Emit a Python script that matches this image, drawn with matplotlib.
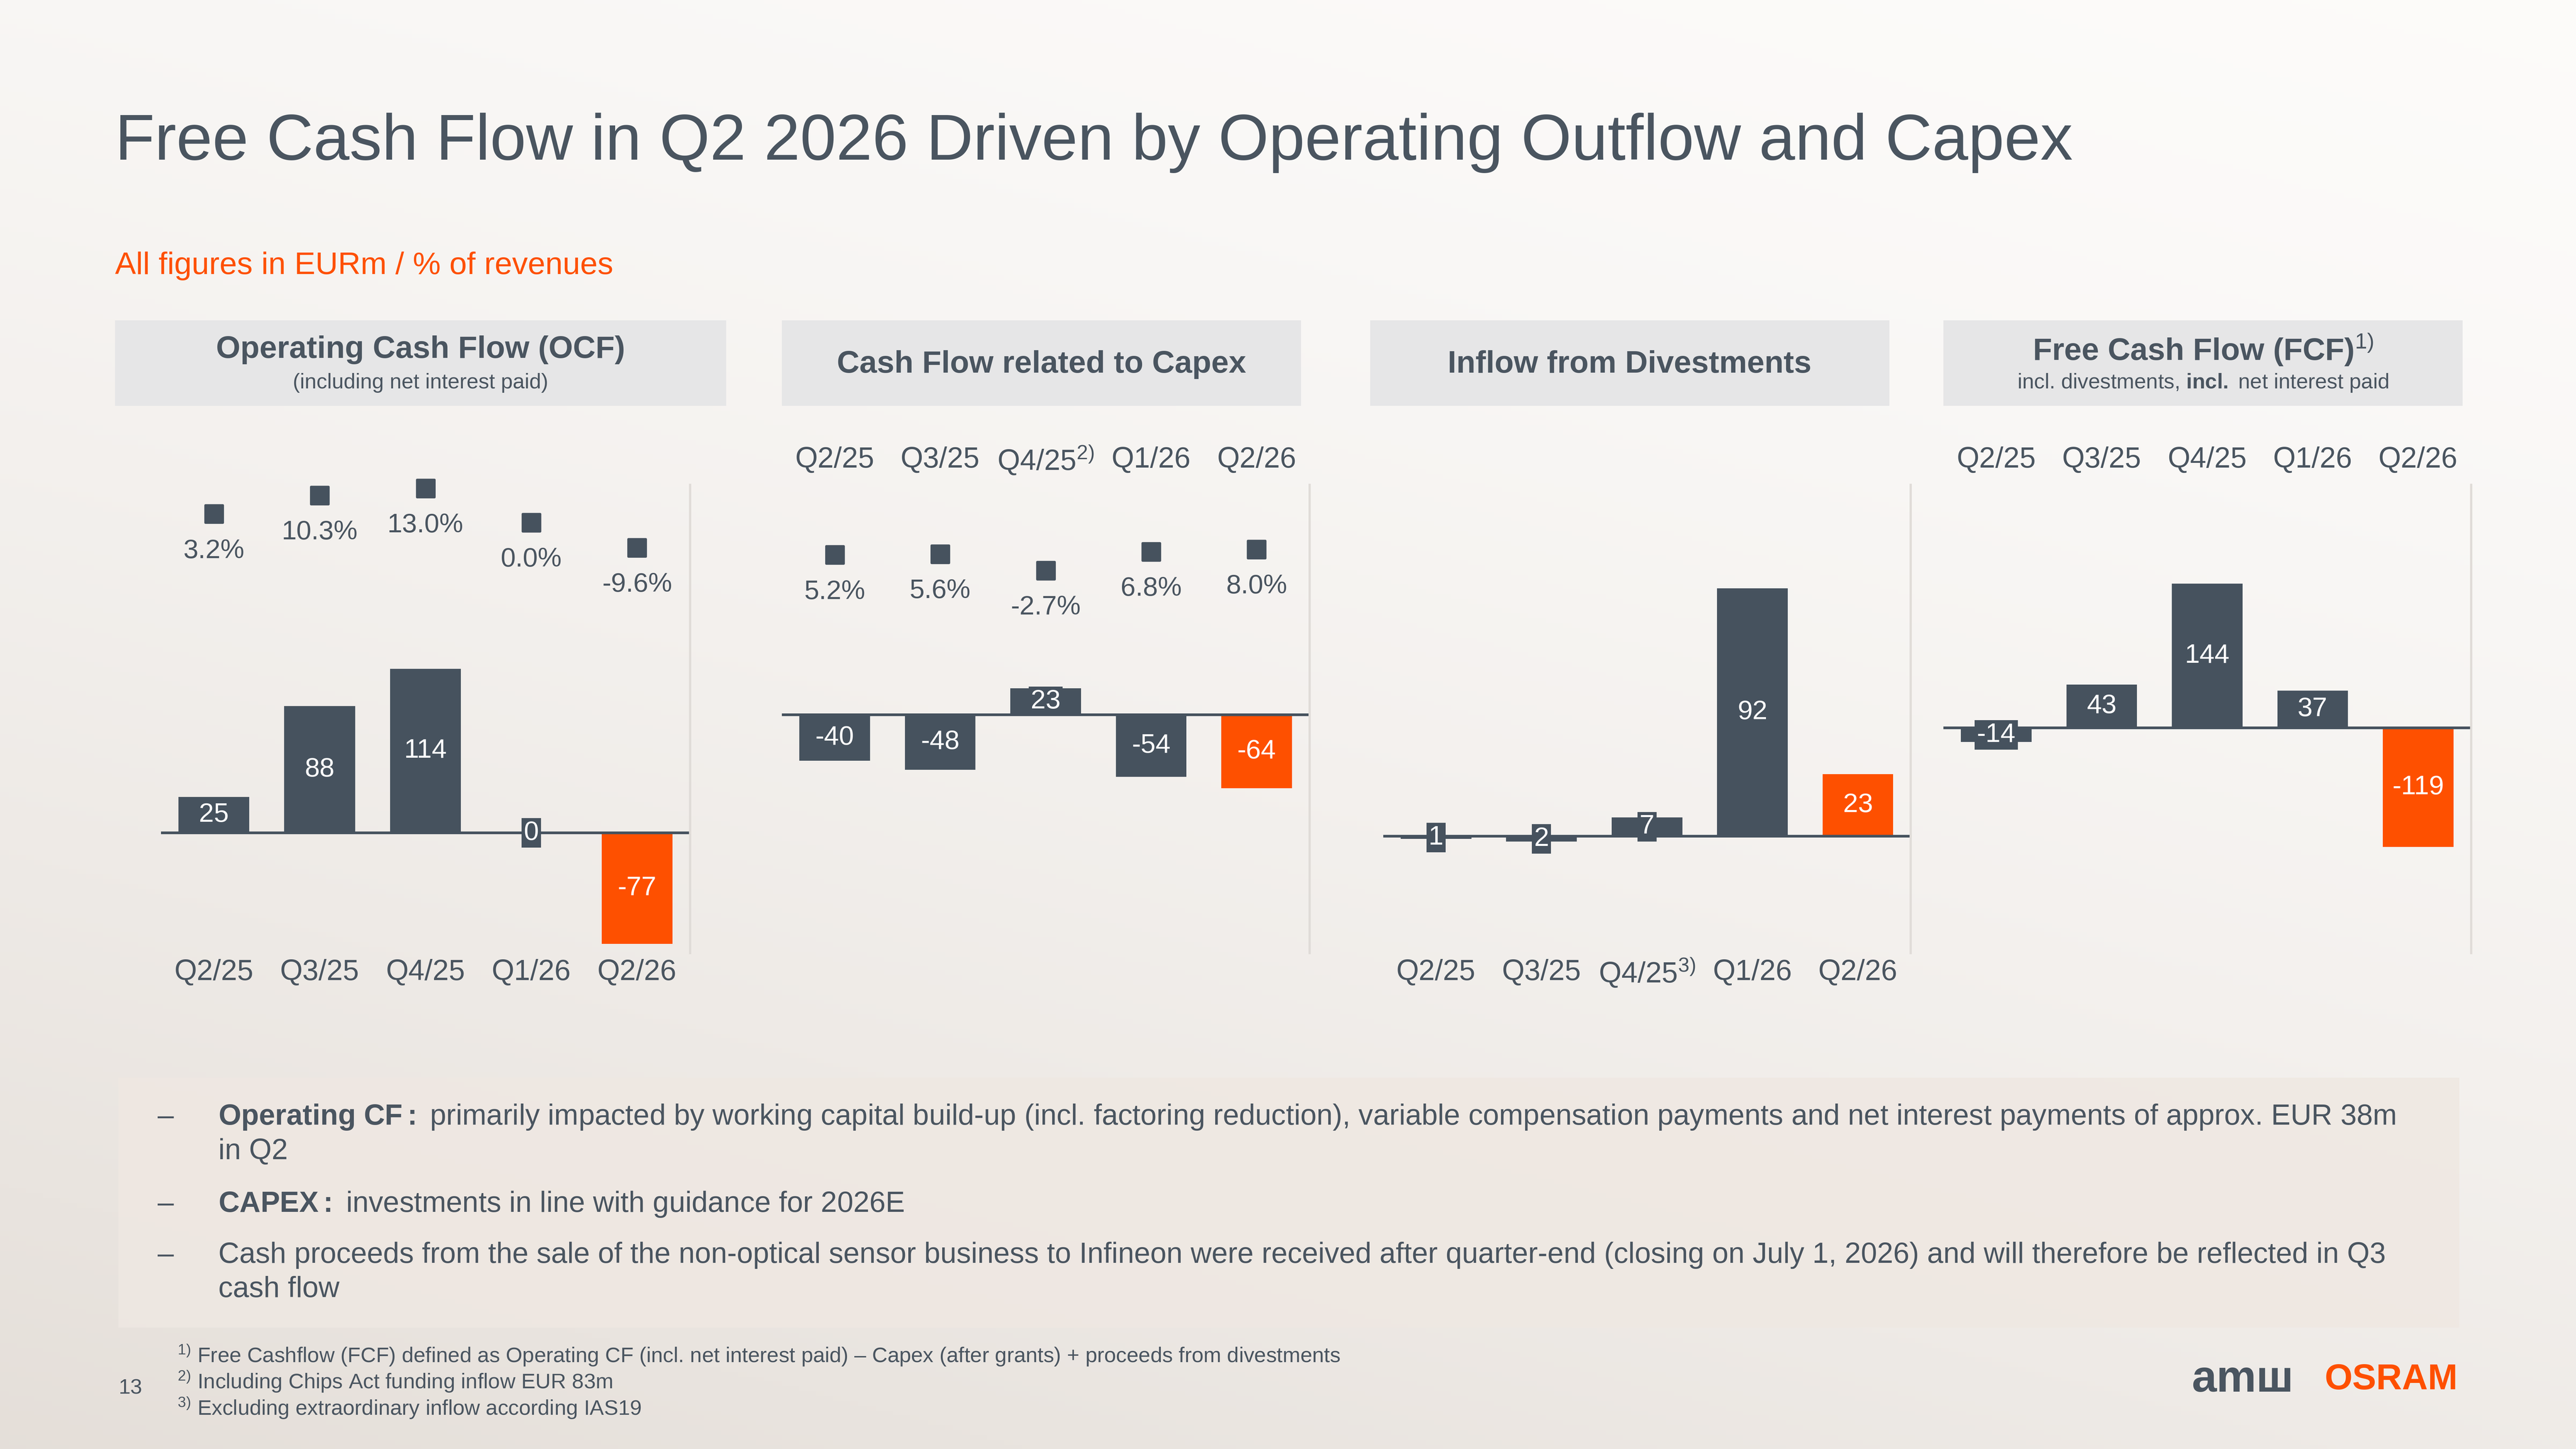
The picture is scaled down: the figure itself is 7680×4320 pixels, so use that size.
import numpy as np
import matplotlib.pyplot as plt
from matplotlib.patches import Rectangle

plt.rcParams['font.family'] = ['Liberation Sans', 'DejaVu Sans']
plt.rcParams['mathtext.fontset'] = 'custom'
plt.rcParams['mathtext.rm'] = 'Liberation Sans'
plt.rcParams['mathtext.bf'] = 'Liberation Sans:bold'
plt.rcParams['mathtext.it'] = 'Liberation Sans:italic'

W, H = 1568, 882
DARK = '#46525e'
ORANGE = '#fe5000'
TXT = '#4a5560'

quarters_a = ['Q2/25', 'Q3/25', 'Q4/25', 'Q1/26', 'Q2/26']
ocf = [25, 88, 114, 0, -77]
ocf_pct = [3.2, 10.3, 13.0, 0.0, -9.6]
capex = [-40, -48, 23, -54, -64]
capex_pct = [5.2, 5.6, -2.7, 6.8, 8.0]
capex_q = ['Q2/25', 'Q3/25', 'Q4/25$^{2)}$', 'Q1/26', 'Q2/26']
divest = [-1, -2, 7, 92, 23]
divest_labels = ['1', '2', '7', '92', '23']
divest_q = ['Q2/25', 'Q3/25', 'Q4/25$^{3)}$', 'Q1/26', 'Q2/26']
fcf = [-14, 43, 144, 37, -119]

fig = plt.figure(figsize=(16, 9), dpi=480)

# background
bg = fig.add_axes([0, 0, 1, 1])
yy, xx = np.mgrid[0:1:300j, 0:1:300j]
g = 0.55 * yy + 0.25 * (1 - xx)
c1 = np.array([0.99, 0.985, 0.98])
c2 = np.array([0.86, 0.83, 0.80])
img = c1 + (c2 - c1) * np.clip(g, 0, 1)[..., None] ** 1.5
bg.imshow(img, extent=[0, 1, 0, 1], aspect='auto', origin='upper')
bg.set_xlim(0, 1); bg.set_ylim(0, 1); bg.axis('off')


def fx(x):
    return x / W


def fy(y):
    return 1 - y / H


def ftext(x, y, s, **kw):
    fig.text(fx(x), fy(y), s, **kw)


def box(x0, y0, x1, y1, color, alpha=1.0):
    fig.add_artist(Rectangle((fx(x0), fy(y1)), fx(x1 - x0), (y1 - y0) / H,
                             transform=fig.transFigure, color=color, alpha=alpha, lw=0))


ftext(70, 87, 'Free Cash Flow in Q2 2026 Driven by Operating Outflow and Capex',
      fontsize=29, color=TXT, va='center')
ftext(70, 162, 'All figures in EURm / % of revenues', fontsize=14, color=ORANGE, va='center')

headers = [
    (70, 442, 'Operating Cash Flow (OCF)', '(including net interest paid)'),
    (476, 792, 'Cash Flow related to Capex', None),
    (834, 1150, 'Inflow from Divestments', None),
    (1183, 1499, 'Free Cash Flow (FCF)$^{1)}$', 'incl. divestments, $\\bf{incl.}$ net interest paid'),
]
for x0, x1, t, sub in headers:
    box(x0, 195, x1, 247, '#e6e6e7')
    xc = (x0 + x1) / 2
    if sub:
        ftext(xc, 213, t, fontsize=14, weight='bold', color=TXT, ha='center', va='center')
        ftext(xc, 233, sub, fontsize=9.5, color=TXT, ha='center', va='center')
    else:
        ftext(xc, 222, t, fontsize=14, weight='bold', color=TXT, ha='center', va='center')


def panel(x0, x1, top, bot, zero, scale, vals, labels, cats, cat_y,
          pct=None, pct_c=None, pct_s=None):
    ax = fig.add_axes([fx(x0), fy(bot), fx(x1 - x0), (bot - top) / H])
    ax.set_xlim(-0.5, 4.5)
    ax.set_ylim((zero - bot) / scale, (zero - top) / scale)
    ax.axis('off')
    colors = [DARK] * 4 + [ORANGE]
    ax.bar(range(5), vals, width=0.67, color=colors)
    ax.axhline(0, color=DARK, lw=1.2)
    for i, (v, lab) in enumerate(zip(vals, labels)):
        if abs(v) * scale < 20:
            ax.text(i, v / 2, lab, ha='center', va='center', color='white', fontsize=12,
                    bbox=dict(boxstyle='square,pad=0.08', fc=DARK, ec='none'))
        else:
            ax.text(i, v / 2, lab, ha='center', va='center', color='white', fontsize=12)
    for i, c in enumerate(cats):
        ftext(x0 + (x1 - x0) * (i + 0.5) / 5, cat_y, c, fontsize=13, color=TXT,
              ha='center', va='center')
    if pct is not None:
        ax2 = ax.twinx()
        ax2.set_ylim((pct_c - bot) / pct_s, (pct_c - top) / pct_s)
        ax2.axis('off')
        ax2.scatter(range(5), pct, marker='s', s=60, color=DARK)
        for i, p in enumerate(pct):
            ax2.annotate(f'{p:.1f}%', (i, p), xytext=(0, -11), textcoords='offset points',
                         ha='center', va='top', fontsize=12, color=TXT)
    # faint panel edge
    fig.add_artist(plt.Line2D([fx(x1), fx(x1)], [fy(295), fy(580)],
                              transform=fig.transFigure, color='#e0dcd8', lw=1))


panel(98, 420, 285, 600, 507, 0.877, ocf, [str(v) for v in ocf], quarters_a, 592,
      ocf_pct, 318, 1.6)
panel(476, 797, 285, 600, 435, 0.70, capex, [str(v) for v in capex], capex_q, 280,
      capex_pct, 344, 1.2)
panel(842, 1163, 285, 600, 509, 1.64, divest, divest_labels, divest_q, 592)
panel(1183, 1504, 285, 600, 443, 0.61, fcf, [str(v) for v in fcf], quarters_a, 280)

# bullets box
box(72, 656, 1497, 808, '#efe8e2', 0.85)
bullets = [
    (680, 'Operating CF:', ' primarily impacted by working capital build-up (incl. factoring reduction), variable compensation payments and net interest payments of approx. EUR 38m'),
    (701, None, 'in Q2'),
    (733, 'CAPEX:', ' investments in line with guidance for 2026E'),
    (764, None, 'Cash proceeds from the sale of the non-optical sensor business to Infineon were received after quarter-end (closing on July 1, 2026) and will therefore be reflected in Q3'),
    (785, None, 'cash flow'),
]
for y, b, t in bullets:
    if b is not None or t.startswith('Cash'):
        ftext(96, y, '–', fontsize=13, color=TXT, va='center')
    if b:
        s = '$\\bf{' + b.replace(' ', '\\ ') + '}$' + t
    else:
        s = t
    ftext(133, y, s, fontsize=13, color=TXT, va='center')

foot = [
    (825, '$^{1)}$ Free Cashflow (FCF) defined as Operating CF (incl. net interest paid) – Capex (after grants) + proceeds from divestments'),
    (841, '$^{2)}$ Including Chips Act funding inflow EUR 83m'),
    (857, '$^{3)}$ Excluding extraordinary inflow according IAS19'),
]
for y, t in foot:
    ftext(108, y, t, fontsize=9.5, color=TXT, va='center')
ftext(72, 845, '13', fontsize=9.5, color=TXT, va='center')

ftext(1334, 840, 'amш', fontsize=20, weight='bold', color=TXT, va='center')
ftext(1415, 840, 'OSRAM', fontsize=16, weight='bold', color=ORANGE, va='center')

fig.savefig('out.png', dpi=480)
